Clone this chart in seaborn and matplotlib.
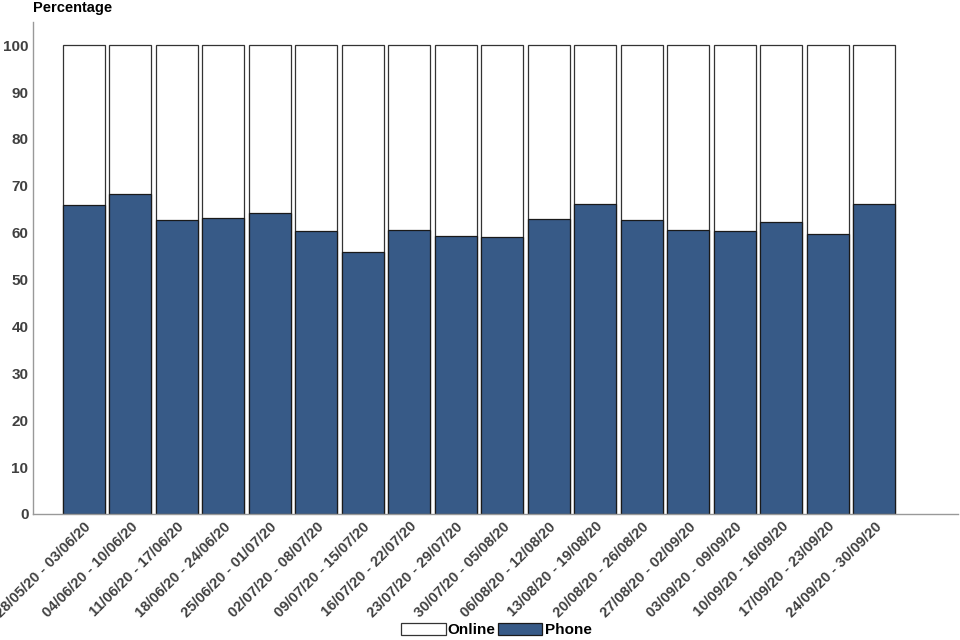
import pandas as pd
import seaborn as sns
import matplotlib.pyplot as plt
from matplotlib.patches import Patch

# weekly periods
periods = ['28/05/20 - 03/06/20', '04/06/20 - 10/06/20', '11/06/20 - 17/06/20',
           '18/06/20 - 24/06/20', '25/06/20 - 01/07/20', '02/07/20 - 08/07/20',
           '09/07/20 - 15/07/20', '16/07/20 - 22/07/20', '23/07/20 - 29/07/20',
           '30/07/20 - 05/08/20', '06/08/20 - 12/08/20', '13/08/20 - 19/08/20',
           '20/08/20 - 26/08/20', '27/08/20 - 02/09/20', '03/09/20 - 09/09/20',
           '10/09/20 - 16/09/20', '17/09/20 - 23/09/20', '24/09/20 - 30/09/20']
phone = [66.0, 68.3, 62.7, 63.2, 64.3, 60.4, 55.8, 60.6, 59.3,
         59.1, 62.9, 66.1, 62.7, 60.6, 60.4, 62.3, 59.8, 66.1]
online = [34.0, 31.7, 37.3, 36.8, 35.7, 39.6, 44.2, 39.4, 40.7,
          40.9, 37.1, 33.9, 37.3, 39.4, 39.6, 37.7, 40.2, 33.9]
yticks = list(range(0, 101, 10))

blue = '#375a87'
txt = '#404040'

sns.set_style('white')
plt.rcParams['font.family'] = ['Liberation Sans', 'DejaVu Sans']

df = pd.DataFrame({'Period': periods, 'Phone': phone, 'Online': online})
df['Total'] = df['Phone'] + df['Online']

fig = plt.figure(figsize=(9.6, 6.4), dpi=100)
ax = fig.add_axes([0.034, 0.197, 0.964, 0.769])

# stacked: full bar white (online on top), phone drawn over it
sns.barplot(data=df, x='Period', y='Total', color='white', edgecolor='#333333',
            linewidth=0.9, width=0.9, saturation=1, ax=ax)
sns.barplot(data=df, x='Period', y='Phone', color=blue, edgecolor='#1a1a1a',
            linewidth=0.9, width=0.9, saturation=1, ax=ax)

ax.set_xlim(-1.1, 18.8)
ax.set_ylim(0, 105)
ax.set_yticks(yticks)
ax.set_xlabel('')
ax.set_ylabel('')
for s in ['top', 'right']:
    ax.spines[s].set_visible(False)
for s in ['left', 'bottom']:
    ax.spines[s].set_color('#999999')
    ax.spines[s].set_linewidth(1)

ax.tick_params(axis='y', length=0, pad=3, labelsize=11, labelcolor=txt)
ax.tick_params(axis='x', length=3, color='#999999', pad=1, labelsize=10.5, labelcolor=txt)
for lab in ax.get_yticklabels():
    lab.set_fontweight('bold')
for lab in ax.get_xticklabels():
    lab.set_fontweight('bold')
    lab.set_rotation(45)
    lab.set_ha('right')
    lab.set_rotation_mode('anchor')

fig.text(0.034, 0.9875, 'Percentage', fontsize=10.5, fontweight='bold',
         color='black', va='center', ha='left')

handles = [Patch(facecolor='white', edgecolor='#333333', linewidth=0.9),
           Patch(facecolor=blue, edgecolor='#1a1a1a', linewidth=0.9)]
leg = fig.legend(handles, ['Online', 'Phone'], loc='lower center',
                 bbox_to_anchor=(0.517, -0.017), ncol=2, frameon=False,
                 handlelength=2.9, handleheight=0.85, handletextpad=0.15,
                 columnspacing=0.15, prop={'size': 11, 'weight': 'bold'})
for t in leg.get_texts():
    t.set_color('black')

fig.savefig('out.png', dpi=100)
